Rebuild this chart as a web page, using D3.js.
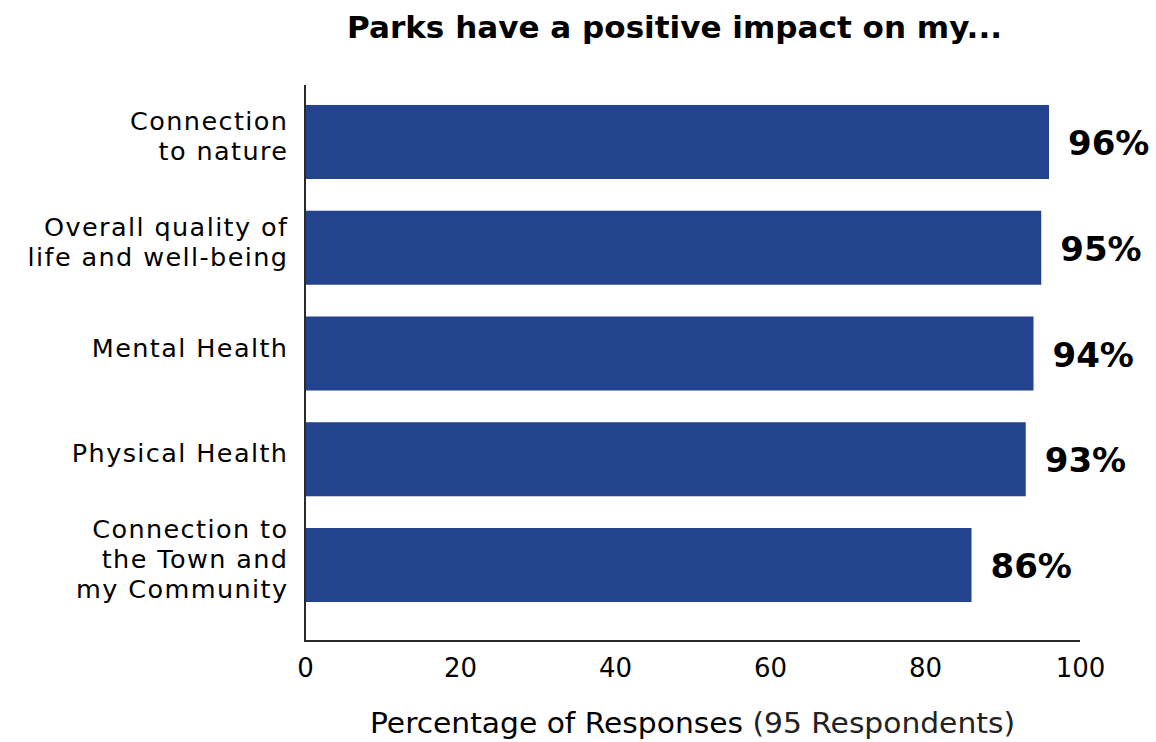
<!DOCTYPE html>
<html><head><meta charset="utf-8">
<script src="https://cdn.jsdelivr.net/npm/d3@7"></script>
<style>body{margin:0;background:#fff}svg{display:block;font-family:"DejaVu Sans",sans-serif}</style>
</head><body>
<svg id="c" width="1156" height="742"></svg>
<script>
const categories = [["Connection","to nature"],["Overall quality of","life and well-being"],["Mental Health"],["Physical Health"],["Connection to","the Town and","my Community"]];
const values = [96, 95, 94, 93, 86];
const xTicks = [0, 20, 40, 60, 80, 100];
const title = "Parks have a positive impact on my...";
const xLabelMain = "Percentage of Responses ";
const xLabelSub = "(95 Respondents)";

const svg = d3.select("#c");
const x = d3.scaleLinear().domain([0,100]).range([305,1080]);
const keys = categories.map((d,i)=>i);
const y = d3.scaleBand().domain(keys).range([89.1,617.9]).paddingInner(0.3).paddingOuter(0.15);

svg.selectAll("rect.bar").data(values).join("rect").attr("class","bar")
  .attr("x", x(0)).attr("y",(d,i)=>y(i)).attr("width",d=>x(d)-x(0)).attr("height",y.bandwidth())
  .attr("fill","#24438f");

// axes lines
svg.append("line").attr("x1",x(0)).attr("x2",x(0)).attr("y1",85).attr("y2",641).attr("stroke","#2a2a2a").attr("stroke-width",2);
svg.append("line").attr("x1",x(0)-1).attr("x2",x(100)).attr("y1",641).attr("y2",641).attr("stroke","#2a2a2a").attr("stroke-width",2);

const xAxis = d3.axisBottom(x).tickValues(xTicks).tickSize(0).tickPadding(0);
const gx = svg.append("g").attr("transform","translate(0,677)").call(xAxis);
gx.select(".domain").remove();
gx.selectAll("text").attr("font-size",26).attr("fill","#000").attr("font-family","DejaVu Sans").attr("dy","0");

// category labels
const lh = 29.7;
const ls = 1.4;
svg.selectAll("text.cat").data(categories).join("text").attr("class","cat")
  .attr("text-anchor","end").attr("font-size",25.5).attr("letter-spacing",ls).attr("fill","#000")
  .each(function(lines,i){
    const cy = y(i)+y.bandwidth()/2;
    const t = d3.select(this);
    const n = lines.length;
    lines.forEach((l,j)=>{
      t.append("tspan").attr("x",287+ls).attr("y", cy + (j-(n-1)/2)*lh + 3).text(l);
    });
  });

// value labels
svg.selectAll("text.val").data(values).join("text").attr("class","val")
  .attr("x",d=>x(d)+19).attr("y",(d,i)=>y(i)+y.bandwidth()/2+13)
  .attr("font-size",34).attr("font-weight",700).attr("fill","#000").text(d=>d+"%");

svg.append("text").attr("x",674.5).attr("y",38).attr("text-anchor","middle")
  .attr("font-size",31).attr("font-weight",700).attr("fill","#000")
  .attr("textLength",655).attr("lengthAdjust","spacingAndGlyphs").text(title);

const xl = svg.append("text").attr("x",(x(0)+x(100))/2).attr("y",733).attr("text-anchor","middle").attr("font-size",28).attr("fill","#000")
  .attr("textLength",645).attr("lengthAdjust","spacingAndGlyphs");
xl.append("tspan").attr("font-weight",500).text(xLabelMain);
xl.append("tspan").attr("font-weight",400).attr("fill","#222").text(xLabelSub);
</script>
</body></html>
